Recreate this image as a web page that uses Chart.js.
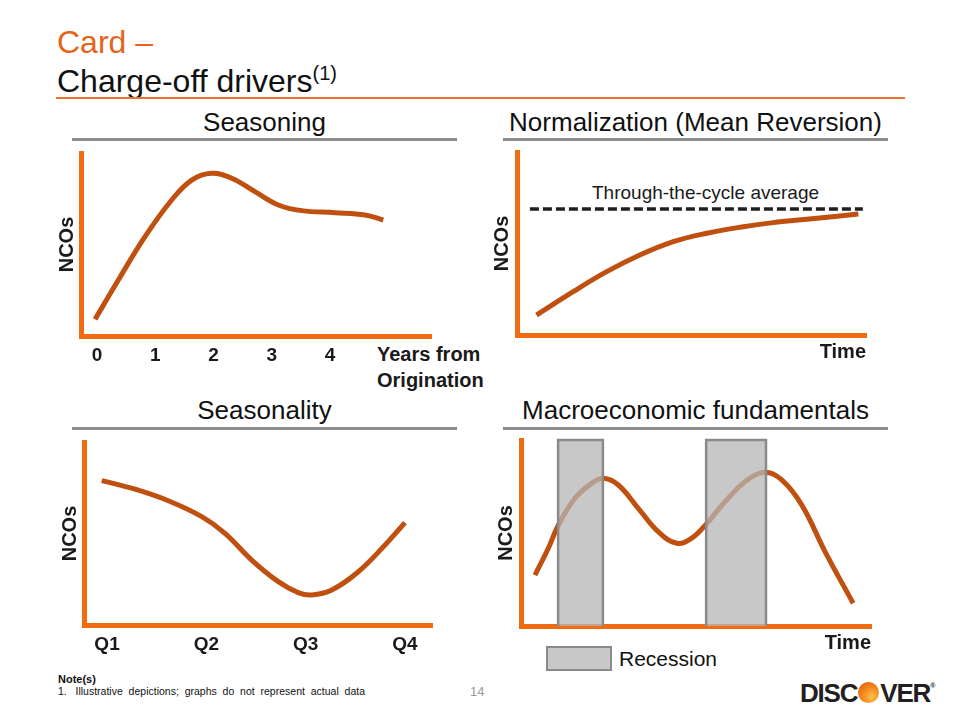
<!DOCTYPE html>
<html>
<head>
<meta charset="utf-8">
<script src="https://cdn.jsdelivr.net/npm/chart.js@4.4.0/dist/chart.umd.min.js"></script>
<style>
  body { margin: 0; background: #fff; font-family: "Liberation Sans", Arial, sans-serif; }
  #slide { position: relative; width: 960px; height: 720px; overflow: hidden; }
  .txt { position: absolute; white-space: nowrap; line-height: 1; color: #111; }
  .rule { position: absolute; height: 3px; background: #8c8c8c; }
  canvas { position: absolute; }
</style>
</head>
<body>
<div id="slide">
  <div class="txt" style="left:57px; top:26px; font-size:32px; color:#E8631A;">Card –</div>
  <div class="txt" style="left:57px; top:65px; font-size:32px;">Charge-off drivers<span style="font-size:20px; position:relative; top:-12px;">(1)</span></div>
  <div style="position:absolute; left:56px; top:97px; width:849px; height:2px; background:#E8732F;"></div>

  <div class="txt" style="left:72px; width:385px; text-align:center; top:109px; font-size:26px;">Seasoning</div>
  <div class="rule" style="left:72px; width:385px; top:138px;"></div>
  <div class="txt" style="left:503px; width:385px; text-align:center; top:109px; font-size:26px;">Normalization (Mean Reversion)</div>
  <div class="rule" style="left:503px; width:385px; top:138px;"></div>
  <div class="txt" style="left:72px; width:385px; text-align:center; top:397px; font-size:26px;">Seasonality</div>
  <div class="rule" style="left:72px; width:385px; top:427px;"></div>
  <div class="txt" style="left:503px; width:385px; text-align:center; top:397px; font-size:26px;">Macroeconomic fundamentals</div>
  <div class="rule" style="left:503px; width:385px; top:427px;"></div>

  <div class="txt" style="left:377px; top:344px; font-size:20px; font-weight:bold; color:#1a1a1a;">Years from</div>
  <div class="txt" style="left:377px; top:370px; font-size:20px; font-weight:bold; color:#1a1a1a;">Origination</div>
  <div class="txt" style="left:592px; top:183px; font-size:19px; color:#1a1a1a;">Through-the-cycle average</div>

  <div style="position:absolute; left:546px; top:646px; width:62px; height:21px; background:#c8c8c8; border:2px solid #8a8a8a;"></div>
  <div class="txt" style="left:619px; top:648px; font-size:21px;">Recession</div>

  <div class="txt" style="left:58px; top:674px; font-size:11px; font-weight:bold;">Note(s)</div>
  <div class="txt" style="left:58px; top:686px; font-size:10.5px;">1.&nbsp;&nbsp;&nbsp;Illustrative&nbsp; depictions;&nbsp; graphs&nbsp; do&nbsp; not&nbsp; represent&nbsp; actual&nbsp; data</div>
  <div class="txt" style="left:470px; top:685px; font-size:13px; color:#9a9a9a;">14</div>

  <div class="txt" style="left:800px; top:680px; font-size:26px; font-weight:bold; color:#231f20; letter-spacing:-1.2px;">DISC<span style="display:inline-block; width:21px; height:21px; border-radius:50%; vertical-align:-1px; margin:0 1px; background:radial-gradient(circle at 65% 70%, #ffc04d, #f28a1c 45%, #de500c);"></span>VER<span style="font-size:7px; vertical-align:14px;">®</span></div>

  <canvas id="seasoning"></canvas>
  <canvas id="normalization"></canvas>
  <canvas id="seasonality"></canvas>
  <canvas id="macro"></canvas>
</div>

<script>
// Seasoning
const seasoningYears = [-0.034, 0.366, 0.824, 1.282, 1.626, 1.969, 2.312, 2.712, 3.112, 3.514, 4.086, 4.601, 4.915];
const seasoningNCOs  = [9.1, 30.6, 54.3, 74.3, 85.2, 88.9, 86.2, 78.9, 71.6, 68.5, 67.4, 66.1, 63.4];
const seasoningTicks = [0, 1, 2, 3, 4];
const seasoningLabels = ['0', '1', '2', '3', '4'];

// Normalization
const normTime = [5.6, 16.1, 25.7, 35.2, 44.8, 54.4, 63.9, 73.4, 83.0, 97.8];
const normNCOs = [10.9, 23.7, 34.6, 43.7, 51.0, 55.6, 58.9, 61.4, 63.2, 66.1];
const cycleAvgTime = [3.7, 99.1];
const cycleAvgNCOs = [68.9, 68.9];

// Seasonality
const quarterPos = [-0.053, 0.282, 0.617, 0.954, 1.188, 1.457, 1.725, 1.926, 2.061, 2.263, 2.531, 2.800, 3.001];
const seasonalityNCOs = [78.9, 74.2, 67.9, 59.2, 50.1, 35.5, 23.7, 17.7, 16.4, 19.1, 29.1, 43.7, 55.9];
const quarterTicks = [0, 1, 2, 3];
const quarterLabels = ['Q1', 'Q2', 'Q3', 'Q4'];

// Macroeconomic fundamentals
const macroTime = [4.0, 7.8, 10.7, 15.4, 20.2, 23.5, 27.8, 33.5, 39.2, 44.5, 48.8, 53.1, 58.3, 64.0, 69.7, 74.5, 80.2, 86.9, 94.9];
const macroNCOs = [27.4, 41.8, 54.3, 68.7, 76.7, 79.4, 75.8, 63.3, 50.7, 44.5, 47.2, 55.2, 66.8, 77.6, 82.6, 78.5, 65.1, 39.9, 12.2];
const recessionStart = [10.6, 52.9];
const recessionEnd = [23.4, 70.0];
const recessionTop = 100;

const AXIS_ORANGE = '#F26B10';
const CURVE = '#C0500F';
const LABEL = '#1a1a1a';

Chart.defaults.font.family = '"Liberation Sans", Arial, sans-serif';

function toPoints(xs, ys) {
    return xs.map((x, i) => ({ x: x, y: ys[i] }));
}

function curve(xs, ys) {
    return {
        data: toPoints(xs, ys),
        borderColor: CURVE,
        borderWidth: 5,
        pointRadius: 0,
        tension: 0.4,
        fill: false,
        order: 5
    };
}

function panelChart(id, box, area, xRange, datasets, xExtra) {
    const canvas = document.getElementById(id);
    canvas.width = box.w;
    canvas.height = box.h;
    canvas.style.left = box.x + 'px';
    canvas.style.top = box.y + 'px';
    const yW = 44, xH = 48;

    const xScale = Object.assign({
        type: 'linear',
        min: xRange[0],
        max: xRange[1],
        z: 1,
        grid: { display: false, drawTicks: false, tickLength: 0 },
        border: { display: true, color: AXIS_ORANGE, width: 5 },
        ticks: { display: false },
        afterFit: s => { s.height = xH; }
    }, xExtra);

    return new Chart(canvas, {
        type: 'line',
        data: { datasets: datasets },
        options: {
            responsive: false,
            animation: false,
            events: [],
            layout: {
                padding: {
                    left: area.l - box.x - yW,
                    top: area.t - box.y,
                    right: box.x + box.w - area.r,
                    bottom: box.y + box.h - area.b - xH
                }
            },
            plugins: { legend: { display: false }, tooltip: { enabled: false } },
            scales: {
                x: xScale,
                y: {
                    type: 'linear',
                    min: 0,
                    max: 100,
                    z: 1,
                    grid: { display: false, drawTicks: false, tickLength: 0 },
                    border: { display: true, color: AXIS_ORANGE, width: 5 },
                    ticks: { display: false },
                    title: {
                        display: true,
                        text: 'NCOs',
                        color: LABEL,
                        font: { size: 20, weight: 'bold' },
                        padding: { top: area.ncoX - (area.l - yW) - 12, bottom: 0 }
                    },
                    afterFit: s => { s.width = yW; }
                }
            }
        }
    });
}

function tickAxis(values, labels, pad) {
    return {
        ticks: {
            display: true,
            autoSkip: false,
            maxRotation: 0,
            color: LABEL,
            padding: pad,
            font: { size: 19, weight: 'bold' },
            callback: (v, i) => labels[i]
        },
        afterBuildTicks: s => { s.ticks = values.map(v => ({ value: v })); }
    };
}

function timeTitle(pb) {
    return {
        title: {
            display: true,
            text: 'Time',
            align: 'end',
            color: LABEL,
            font: { size: 20, weight: 'bold' },
            padding: { top: 0, bottom: pb }
        }
    };
}

panelChart('seasoning',
    { x: 30, y: 145, w: 440, h: 255 },
    { l: 81, t: 153, r: 431, b: 336, ncoX: 67.5 },
    [-0.275, 5.734],
    [curve(seasoningYears, seasoningNCOs)],
    tickAxis(seasoningTicks, seasoningLabels, 8));

panelChart('normalization',
    { x: 470, y: 145, w: 420, h: 255 },
    { l: 517, t: 152, r: 866, b: 335, ncoX: 502.5 },
    [0, 100],
    [
        curve(normTime, normNCOs),
        {
            data: toPoints(cycleAvgTime, cycleAvgNCOs),
            borderColor: '#1f1f1f',
            borderWidth: 3.5,
            borderDash: [9, 4],
            pointRadius: 0,
            tension: 0,
            order: 1
        }
    ],
    timeTitle(19));

panelChart('seasonality',
    { x: 30, y: 432, w: 440, h: 260 },
    { l: 84, t: 442, r: 432, b: 625, ncoX: 70.5 },
    [-0.232, 3.273],
    [curve(quarterPos, seasonalityNCOs)],
    tickAxis(quarterTicks, quarterLabels, 8));

const recessionBoxes = recessionStart.map((s, i) => ({
    data: [
        { x: s, y: 0 }, { x: s, y: recessionTop },
        { x: recessionEnd[i], y: recessionTop }, { x: recessionEnd[i], y: 0 }
    ],
    borderColor: '#8a8a8a',
    borderWidth: 2.5,
    backgroundColor: 'rgba(182,182,182,0.75)',
    fill: 'origin',
    pointRadius: 0,
    tension: 0,
    clip: false,
    order: 1
}));

panelChart('macro',
    { x: 470, y: 432, w: 420, h: 260 },
    { l: 521, t: 440, r: 871, b: 626, ncoX: 506.5 },
    [0, 100],
    [curve(macroTime, macroNCOs)].concat(recessionBoxes),
    timeTitle(19));
</script>
</body>
</html>
